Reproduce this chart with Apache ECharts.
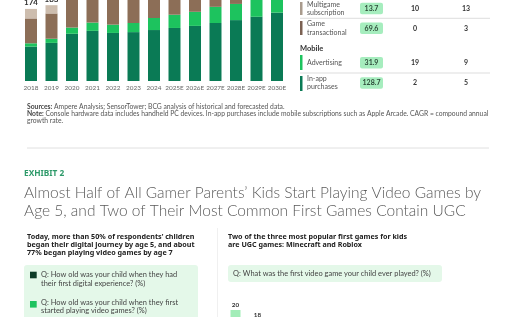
<!DOCTYPE html>
<html><head><meta charset="utf-8">
<script src="https://cdn.jsdelivr.net/npm/echarts@6/dist/echarts.min.js"></script>
<style>html,body{margin:0;padding:0;background:#fff;overflow:hidden}#c{width:513px;height:317px}</style>
</head><body><div id="c"></div>
<script>
// ---- Top chart data (values in $B) ----
const years = ['2018','2019','2020','2021','2022','2023','2024','2025E','2026E','2027E','2028E','2029E','2030E'];
const inAppPurchases = [83,92,114,121,116,118,123,128,133,140,147,155,165];
const advertising = [8,10,15,20,20,22,29,32,34,39,39,42,44];
const gameTransactional = [60,61,70,70,68,68,70,70,71,72,73,74,75];
const multigameSubscription = [23,20,12,13,13,13,14,15,16,17,18,19,20];
const totalLabels = [174,183];

// ---- Table data ----
const tableNames = [['Multigame','subscription'],['Game','transactional'],['Advertising'],['In-app','purchases']];
const tableValues = ['13.7','69.6','31.9','128.7'];
const cagrPast = ['10','0','19','2'];
const cagrFuture = ['13','3','9','5'];

// ---- Exhibit 2 partial chart ----
const firstGameNames = ['Minecraft','Roblox'];
const firstGameShares = [20,18];

const C = {dark:'#0A7A55', bright:'#1DC35E', brown:'#8C6E57', beige:'#CDBDAE'};
const FF = 'Lato, "Noto Sans", sans-serif';
const FN = '"Noto Sans", sans-serif';

const g = [];
function txt(x,y,text,opt){
  g.push({type:'text', x:x, y:y, silent:true, style:Object.assign({text:text, fontFamily:FF, fontSize:7, fill:'#444', verticalAlign:'middle', align:'left'}, opt||{})});
}
function rect(x,y,w,h,fill,r){
  g.push({type:'rect', silent:true, shape:{x:x,y:y,width:w,height:h,r:r||0}, style:{fill:fill}});
}
function line(x1,y1,x2,y2,stroke,w){
  g.push({type:'line', silent:true, shape:{x1:x1,y1:y1,x2:x2,y2:y2}, style:{stroke:stroke,lineWidth:w||0.7}});
}

// table
const rowBars = [[2,15,'#A99B8D'],[21,35,'#7B6152'],[55,70,C.bright],[76,91,C.dark]];
const rowCenters = [8.5,28.3,62.7,83];
const nameLines = [[4.3,12.7],[24,32.7],[62.5],[78.6,86.8]];
for(let i=0;i<4;i++){
  rect(300,rowBars[i][0],2.5,rowBars[i][1]-rowBars[i][0],rowBars[i][2]);
  tableNames[i].forEach((t,k)=>txt(307,nameLines[i][k],t,{fill:'#555',fontSize:7}));
  rect(360,rowCenters[i]-5.7,23,11.4,'#A6EDBE',2);
  txt(371.5,rowCenters[i],tableValues[i],{align:'center',fontWeight:'bold',fill:'#2c4a38',fontSize:7});
  txt(415,rowCenters[i],cagrPast[i],{align:'center',fontWeight:'bold',fill:'#333',fontSize:7});
  txt(466,rowCenters[i],cagrFuture[i],{align:'center',fontWeight:'bold',fill:'#333',fontSize:7});
}
line(300,18.3,490,18.3,'#cfcfcf');
line(300,73,490,73,'#cfcfcf');
txt(300,48.5,'Mobile',{fontWeight:'bold',fill:'#333',fontSize:7.5});

// footnotes
const fnRich = {b:{fontWeight:'bold',fontFamily:FF,fontSize:6.75,fill:'#444'}};
g.push({type:'text', x:27, y:107, silent:true, style:{text:'{b|Sources:} Ampere Analysis; SensorTower; BCG analysis of historical and forecasted data.', fontFamily:FF, fontSize:6.75, fill:'#555', verticalAlign:'middle', rich:fnRich}});
g.push({type:'text', x:27, y:114, silent:true, style:{text:'{b|Note:} Console hardware data includes handheld PC devices. In-app purchases include mobile subscriptions such as Apple Arcade. CAGR = compound annual', fontFamily:FF, fontSize:6.75, fill:'#555', verticalAlign:'middle', rich:fnRich}});
txt(27,120.5,'growth rate.',{fontSize:6.75,fill:'#555'});
line(27,148,489,148,'#d8d8d8',0.8);

// exhibit title
txt(24,174,'EXHIBIT 2',{fontFamily:FN,fontWeight:'bold',fill:'#2E9A6A',fontSize:8.3});
txt(24,192.7,'Almost Half of All Gamer Parents\u2019 Kids Start Playing Video Games by',{fontSize:15.5,fill:'#5a5a5a',fontWeight:300});
txt(24,211,'Age 5, and Two of Their Most Common First Games Contain UGC',{fontSize:15.5,fill:'#5a5a5a',fontWeight:300});

// left panel
['Today, more than 50% of respondents\u2019 children','began their digital journey by age 5, and about','77% began playing video games by age 7'].forEach((t,k)=>txt(27,236.7+k*8.3,t,{fontFamily:FN,fontWeight:'bold',fill:'#222',fontSize:7.2}));
rect(24,265,174,60,'#E4F8E9',3);
rect(30,271.7,6.7,6.6,'#0C3B26');
txt(41,274.7,'Q: How old was your child when they had',{fill:'#444',fontSize:7.45});
txt(41,283.5,'their first digital experience? (%)',{fill:'#444',fontSize:7.45});
rect(30,301,6.7,6.6,C.bright);
txt(41,302.5,'Q: How old was your child when they first',{fill:'#444',fontSize:7.45});
txt(41,311,'started playing video games? (%)',{fill:'#444',fontSize:7.45});

// right panel
line(217.5,228,217.5,317,'#ececec',0.8);
['Two of the three most popular first games for kids','are UGC games: Minecraft and Roblox'].forEach((t,k)=>txt(228,236.7+k*8.3,t,{fontFamily:FN,fontWeight:'bold',fill:'#222',fontSize:7.15}));
rect(228,265,214,17,'#E4F8E9',3);
txt(233,273.7,'Q: What was the first video game your child ever played? (%)',{fill:'#444',fontSize:7.45});

const chart = echarts.init(document.getElementById('c'), null, {renderer:'canvas'});
chart.setOption({
  animation:false,
  backgroundColor:'#fff',
  grid:[
    {left:20.75, right:225.75, top:0, bottom:236, containLabel:false, outerBoundsMode:'none'},
    {left:224.5, width:44, top:290, height:120, containLabel:false, outerBoundsMode:'none'}
  ],
  xAxis:[
    {type:'category', gridIndex:0, data:years, axisLine:{show:false}, axisTick:{show:false},
     axisLabel:{fontFamily:FF, fontSize:6.4, color:'#666', margin:4, interval:0}},
    {type:'category', gridIndex:1, data:firstGameNames, axisLine:{show:false}, axisTick:{show:false}, axisLabel:{show:false}}
  ],
  yAxis:[
    {type:'value', gridIndex:0, min:0, max:195.5, show:false, splitLine:{show:false}},
    {type:'value', gridIndex:1, min:0, max:24, show:false, splitLine:{show:false}}
  ],
  series:[
    {name:'In-app purchases', type:'bar', stack:'t', data:inAppPurchases, barWidth:12, itemStyle:{color:C.dark}, clip:true},
    {name:'Advertising', type:'bar', stack:'t', data:advertising, barWidth:12, itemStyle:{color:C.bright}, clip:true},
    {name:'Game transactional', type:'bar', stack:'t', data:gameTransactional, barWidth:12, itemStyle:{color:C.brown}, clip:true},
    {name:'Multigame subscription', type:'bar', stack:'t', data:multigameSubscription, barWidth:12, itemStyle:{color:C.beige}, clip:true,
     label:{show:true, position:'top', distance:2, fontFamily:FF, fontSize:8, fontWeight:'bold', color:'#333',
       formatter:p=> p.dataIndex<totalLabels.length ? String(totalLabels[p.dataIndex]) : ''}},
    {name:'First game', type:'bar', xAxisIndex:1, yAxisIndex:1, data:firstGameShares, barWidth:10, itemStyle:{color:'#A2EDB8'},
     label:{show:true, position:'top', distance:2, fontFamily:FF, fontSize:6.3, fontWeight:'bold', color:'#333'}}
  ],
  graphic:g
});
</script></body></html>
